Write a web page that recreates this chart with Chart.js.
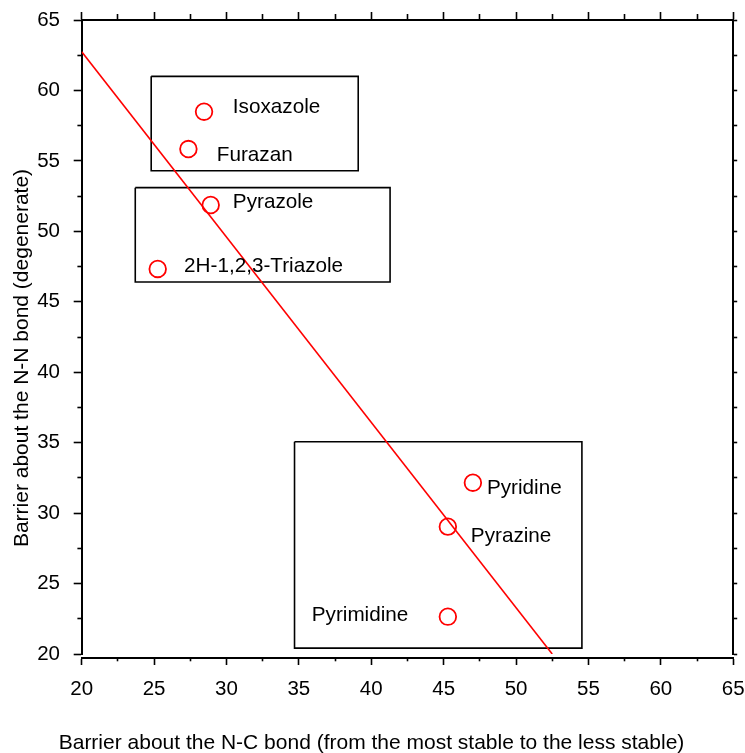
<!DOCTYPE html>
<html><head><meta charset="utf-8">
<script src="https://cdn.jsdelivr.net/npm/chart.js@4/dist/chart.umd.min.js"></script>
<style>html,body{margin:0;padding:0;background:#fff}canvas{display:block}</style>
</head><body>
<canvas id="c" width="745" height="753"></canvas>
<script>
// ---- data ----
const compounds = ['Isoxazole','Furazan','Pyrazole','2H-1,2,3-Triazole','Pyridine','Pyrazine','Pyrimidine'];
const barrierNC = [28.45, 27.37, 28.91, 25.25, 47.02, 45.29, 45.29];
const barrierNN = [58.49, 55.84, 51.87, 47.33, 32.16, 29.04, 22.65];
const labelX = [30.44, 29.33, 30.44, 27.07, 47.99, 46.88, 35.89];
const labelY = [58.38, 54.99, 51.68, 47.09, 31.36, 27.97, 22.37];
const fitX = [20, 52.5];
const fitY = [62.75, 20];
const boxLeft = [24.8, 23.7, 34.7];
const boxRight = [39.1, 41.3, 54.55];
const boxTop = [61.0, 53.1, 35.07];
const boxBottom = [54.3, 46.4, 20.42];
const xMajor = [20,25,30,35,40,45,50,55,60,65];
const xMinor = [22.5,27.5,32.5,37.5,42.5,47.5,52.5,57.5,62.5];
const yMajor = [20,25,30,35,40,45,50,55,60,65];
const yMinor = [22.5,27.5,32.5,37.5,42.5,47.5,52.5,57.5,62.5];
const yRightTicks = [20,22.5,25,27.5,30,32.5,35,37.5,40,42.5,45,47.5,50,52.5,55,57.5,60,62.5,65];
const xTickLabels = ['20','25','30','35','40','45','50','55','60','65'];
const yTickLabels = ['20','25','30','35','40','45','50','55','60','65'];
const xTitle = 'Barrier about the N-C bond (from the most stable to the less stable)';
const yTitle = 'Barrier about the N-N bond (degenerate)';

const FONT = '"Liberation Sans", Arial, Helvetica, sans-serif';

function scale(pos, weight, ticksArr, tl, size, opts) {
  opts = opts || {};
  const horiz = (pos === 'top' || pos === 'bottom');
  return {
    type: 'linear', position: pos, weight: weight, min: 20, max: 65,
    afterBuildTicks: s => { s.ticks = ticksArr.map(v => ({value: v})); },
    afterFit: s => {
      if (horiz) s.height = size; else s.width = size;
      s.paddingLeft = 0; s.paddingRight = 0; s.paddingTop = 0; s.paddingBottom = 0;
    },
    grid: { display: tl > 0, drawOnChartArea: false, drawTicks: tl > 0, tickLength: tl,
            tickWidth: 1.6, tickColor: '#000', color: '#000' },
    border: { display: !!opts.border, color: '#000', width: 2 },
    ticks: opts.labels ? {
      display: true, padding: opts.padding, color: '#000', autoSkip: false, maxRotation: 0,
      font: { family: FONT, size: 20.5 },
      callback: (v, i) => opts.labels[i]
    } : { display: false },
    title: { display: false, text: opts.title || '' }
  };
}

const datasets = [];
datasets.push({
  label: 'compounds',
  data: compounds.map((_, i) => ({x: barrierNC[i], y: barrierNN[i]})),
  pointStyle: 'circle', pointRadius: 8.3, pointBorderWidth: 1.8,
  borderColor: '#ff0000', pointBorderColor: '#ff0000', backgroundColor: 'rgba(0,0,0,0)', pointBackgroundColor: 'rgba(0,0,0,0)',
  showLine: false, order: 1
});
datasets.push({
  label: 'fit',
  data: fitX.map((v, i) => ({x: v, y: fitY[i]})),
  showLine: true, pointRadius: 0, borderColor: '#ff0000', borderWidth: 1.6, fill: false, order: 2
});
boxLeft.forEach((l, i) => {
  datasets.push({
    label: 'group' + (i + 1),
    data: [{x: l, y: boxTop[i]}, {x: boxRight[i], y: boxTop[i]}, {x: boxRight[i], y: boxBottom[i]},
           {x: l, y: boxBottom[i]}, {x: l, y: boxTop[i]}],
    showLine: true, pointRadius: 0, borderColor: '#000', borderWidth: 1.6, fill: false, order: 3
  });
});

const labelPlugin = {
  id: 'pointLabels',
  afterDatasetsDraw(chart) {
    const {ctx, scales} = chart;
    ctx.save();
    ctx.font = '20.7px ' + FONT;
    ctx.fillStyle = '#000';
    ctx.textAlign = 'left';
    ctx.textBaseline = 'alphabetic';
    compounds.forEach((t, i) => {
      ctx.fillText(t, scales.x.getPixelForValue(labelX[i]), scales.y.getPixelForValue(labelY[i]));
    });
    ctx.restore();
  }
};

const titlePlugin = {
  id: 'axisTitles',
  afterDraw(chart) {
    const {ctx} = chart;
    ctx.save();
    ctx.font = '21px ' + FONT;
    ctx.fillStyle = '#000';
    ctx.textAlign = 'center';
    ctx.textBaseline = 'alphabetic';
    ctx.fillText(chart.options.scales.x.title.text, 371.5, 749);
    ctx.translate(28, 358);
    ctx.rotate(-Math.PI / 2);
    ctx.fillText(chart.options.scales.y.title.text, 0, 0);
    ctx.restore();
  }
};

new Chart(document.getElementById('c'), {
  type: 'scatter',
  data: { datasets },
  options: {
    responsive: false, animation: false, devicePixelRatio: 1,
    layout: { padding: 0 },
    plugins: { legend: { display: false }, tooltip: { enabled: false } },
    scales: {
      x: scale('bottom', 2, xMajor, 7, 95, { border: true, labels: xTickLabels, padding: 12.2, title: xTitle }),
      xm: scale('bottom', 1, xMinor, 3.3, 0),
      xs: scale('bottom', 0, [], 0, 4),
      xt: scale('top', 2, xMajor, 8, 20, { border: true }),
      xtm: scale('top', 1, xMinor, 6, 0),
      y: scale('left', 2, yMajor, 8, 81.7, { border: true, labels: yTickLabels, padding: 13.7, title: yTitle }),
      ym: scale('left', 1, yMinor, 4.3, 0),
      yr: scale('right', 1, yRightTicks, 4, 11.8, { border: true })
    }
  },
  plugins: [labelPlugin, titlePlugin]
});
</script>
</body></html>
